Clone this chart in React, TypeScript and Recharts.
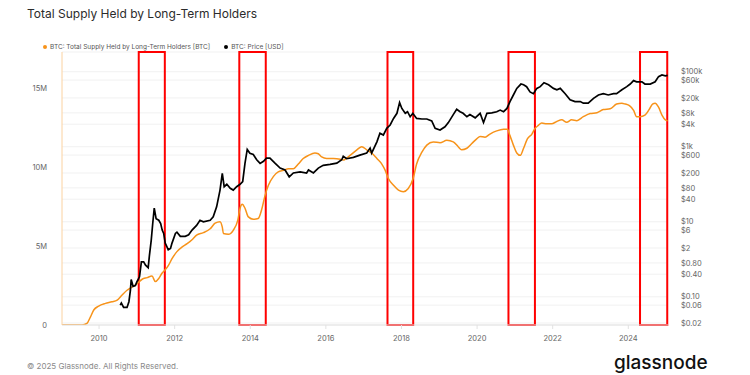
import { ComposedChart, Line, XAxis, YAxis, CartesianGrid, ReferenceArea } from 'recharts';

// Long-term holder supply, millions of BTC
const supplyYears = [
  2009.02, 2009.55, 2009.68, 2009.77, 2009.86, 2009.99, 2010.17, 2010.34, 2010.48, 2010.61,
  2010.74, 2010.87, 2011.0, 2011.14, 2011.27, 2011.4, 2011.49, 2011.58, 2011.67, 2011.75,
  2011.84, 2011.93, 2012.06, 2012.2, 2012.33, 2012.46, 2012.58, 2012.76, 2012.94, 2013.07,
  2013.2, 2013.26, 2013.29, 2013.42, 2013.55, 2013.67, 2013.73, 2013.79, 2013.86, 2013.95,
  2014.08, 2014.21, 2014.3, 2014.39, 2014.48, 2014.61, 2014.74, 2014.88, 2015.01, 2015.14,
  2015.27, 2015.4, 2015.54, 2015.71, 2015.8, 2015.89, 2016.02, 2016.2, 2016.38, 2016.46,
  2016.64, 2016.82, 2016.95, 2017.08, 2017.21, 2017.35, 2017.48, 2017.57, 2017.65, 2017.79,
  2017.92, 2018.05, 2018.18, 2018.31, 2018.4, 2018.54, 2018.67, 2018.84, 2019.02, 2019.2,
  2019.37, 2019.5, 2019.59, 2019.73, 2019.86, 2019.99, 2020.08, 2020.21, 2020.34, 2020.52,
  2020.7, 2020.8, 2020.87, 2020.96, 2021.05, 2021.14, 2021.23, 2021.33, 2021.45, 2021.53,
  2021.62, 2021.71, 2021.84, 2021.97, 2022.11, 2022.24, 2022.37, 2022.5, 2022.64, 2022.81,
  2022.99, 2023.17, 2023.34, 2023.52, 2023.69, 2023.83, 2023.92, 2024.03, 2024.14, 2024.22,
  2024.31, 2024.44, 2024.55, 2024.64, 2024.71, 2024.8, 2024.89, 2024.98, 2025.04,
];
const supplyValues = [
  0, 0, 0.1, 0.5, 0.95, 1.2, 1.37, 1.47, 1.58, 1.9,
  2.2, 2.4, 2.6, 2.9, 3.0, 3.1, 2.75, 2.95, 3.3, 3.5,
  3.8, 4.2, 4.65, 4.95, 5.15, 5.4, 5.7, 5.85, 6.1, 6.45,
  6.55, 6.2, 5.8, 5.75, 6.0, 6.65, 7.4, 7.65, 7.4, 6.85,
  6.7, 6.75, 7.3, 8.2, 8.85, 9.4, 9.7, 9.8, 9.9, 9.9,
  10.2, 10.55, 10.75, 10.9, 10.85, 10.65, 10.55, 10.55, 10.5, 10.45,
  10.75, 11.1, 11.3, 11.1, 10.9, 10.55, 10.2, 9.8, 9.3, 8.85,
  8.55, 8.45, 8.65, 9.3, 10.2, 10.95, 11.4, 11.6, 11.55, 11.7,
  11.6, 11.3, 11.1, 11.2, 11.5, 11.8, 11.95, 11.9, 12.1, 12.3,
  12.4, 12.4, 12.0, 11.4, 10.9, 10.75, 11.2, 11.8, 12.1, 12.45,
  12.65, 12.8, 12.75, 12.75, 12.9, 13.0, 12.85, 13.0, 12.95, 13.2,
  13.4, 13.45, 13.65, 13.7, 14.0, 14.05, 14.0, 13.9, 13.6, 13.2,
  13.2, 13.3, 13.65, 14.0, 14.05, 13.8, 13.3, 13.0, 12.95,
];

// BTC price, USD
const priceYears = [
  2010.56, 2010.59, 2010.65, 2010.74, 2010.79, 2010.83, 2010.85, 2010.9, 2010.96, 2011.0,
  2011.07, 2011.12, 2011.18, 2011.23, 2011.3, 2011.33, 2011.38, 2011.42, 2011.46, 2011.51,
  2011.58, 2011.63, 2011.67, 2011.71, 2011.75, 2011.83, 2011.89, 2011.93, 2012.02, 2012.06,
  2012.15, 2012.28, 2012.37, 2012.46, 2012.58, 2012.67, 2012.76, 2012.94, 2013.02, 2013.11,
  2013.2, 2013.26, 2013.31, 2013.38, 2013.47, 2013.55, 2013.64, 2013.73, 2013.8, 2013.86,
  2013.92, 2013.99, 2014.08, 2014.17, 2014.26, 2014.35, 2014.43, 2014.52, 2014.66, 2014.79,
  2014.92, 2015.03, 2015.14, 2015.32, 2015.49, 2015.54, 2015.67, 2015.8, 2015.93, 2016.11,
  2016.29, 2016.42, 2016.46, 2016.55, 2016.73, 2016.9, 2017.08, 2017.17, 2017.21, 2017.35,
  2017.43, 2017.52, 2017.61, 2017.7, 2017.79, 2017.88, 2017.95, 2018.01, 2018.1, 2018.16,
  2018.23, 2018.3, 2018.4, 2018.54, 2018.67, 2018.8, 2018.89, 2019.02, 2019.15, 2019.24,
  2019.37, 2019.46, 2019.55, 2019.63, 2019.73, 2019.81, 2019.95, 2020.08, 2020.17, 2020.26,
  2020.39, 2020.52, 2020.61, 2020.7, 2020.79, 2020.87, 2020.96, 2021.05, 2021.16, 2021.23,
  2021.31, 2021.4, 2021.49, 2021.58, 2021.67, 2021.77, 2021.89, 2022.02, 2022.11, 2022.2,
  2022.33, 2022.46, 2022.59, 2022.73, 2022.81, 2022.94, 2023.08, 2023.21, 2023.34, 2023.47,
  2023.61, 2023.69, 2023.83, 2023.96, 2024.05, 2024.14, 2024.22, 2024.36, 2024.44, 2024.58,
  2024.71, 2024.8, 2024.89, 2024.98, 2025.04,
];
const priceValues = [
  0.06, 0.068, 0.052, 0.052, 0.074, 0.15, 0.29, 0.19, 0.2, 0.25,
  0.34, 0.85, 0.85, 0.7, 0.6, 1.2, 3.2, 9, 23, 12,
  11, 9, 6, 4.9, 2.7, 1.8, 1.95, 2.7, 4.9, 5.3,
  4.1, 4.1, 4.5, 6, 8, 11, 10, 11, 13.5, 25,
  70, 196, 86, 100, 78, 70, 86, 100, 117, 360,
  850, 670, 620, 450, 360, 410, 500, 500, 360, 270,
  240, 158, 200, 215, 200, 240, 200, 270, 320, 340,
  365, 450, 560, 480, 520, 600, 680, 920, 680, 1350,
  2300, 2050, 3100, 3800, 5700, 7800, 15000, 10500, 7800, 8600,
  6300, 7800, 5700, 5500, 5500, 4900, 3100, 2800, 3400, 4400,
  7200, 10000, 8600, 7800, 6300, 7200, 5900, 7800, 4400, 7800,
  8000, 8600, 9500, 8600, 10500, 16000, 24000, 36000, 47000, 45000,
  40000, 29000, 26000, 36000, 40000, 51000, 45000, 36000, 33000, 36000,
  26000, 18000, 16000, 16000, 14500, 14500, 19500, 24000, 26000, 24000,
  26000, 26000, 33000, 40000, 47000, 58000, 54000, 54000, 47000, 47000,
  54000, 74000, 82000, 78000, 80000,
];

// highlighted periods (start, end year)
const boxStarts = [2011.05, 2013.71, 2017.63, 2020.83, 2024.31];
const boxEnds = [2011.74, 2014.41, 2018.31, 2021.53, 2025.03];

const yearTicks = [2010, 2012, 2014, 2016, 2018, 2020, 2022, 2024];
const supplyTicks = [0, 5, 10, 15];
const priceTicks = [0.02, 0.06, 0.1, 0.4, 0.8, 2, 6, 10, 40, 80, 200, 600, 1000, 4000, 8000, 20000, 60000, 100000];

const supplyData = supplyYears.map((y, i) => ({ year: y, supply: supplyValues[i] }));
const priceData = priceYears.map((y, i) => ({ year: y, price: priceValues[i] }));

function formatPrice(v: number) {
  if (v >= 1000) return '$' + v / 1000 + 'k';
  if (v < 1) return '$' + v.toFixed(2);
  return '$' + v;
}

const tickStyle = { fontSize: 7.5, fill: '#666', fontFamily: 'Inter' };

export default function App() {
  return (
    <div style={{ position: 'absolute', left: 0, top: 0, width: 750, height: 375, background: '#fff', fontFamily: 'Inter', overflow: 'hidden' }}>
      <div style={{ position: 'absolute', left: 27, top: 6, fontSize: 12, lineHeight: '15px', color: '#2b2b2b' }}>
        Total Supply Held by Long-Term Holders
      </div>

      <div style={{ position: 'absolute', left: 43, top: 43, fontSize: 6.5, color: '#555', display: 'flex', alignItems: 'center' }}>
        <span style={{ width: 4, height: 4, borderRadius: 2, background: '#f7931a', marginRight: 3 }} />
        <span style={{ marginRight: 14 }}>BTC: Total Supply Held by Long-Term Holders [BTC]</span>
        <span style={{ width: 4, height: 4, borderRadius: 2, background: '#000', marginRight: 3 }} />
        <span>BTC: Price [USD]</span>
      </div>

      <div style={{ position: 'absolute', left: 0, top: 0 }}>
        <ComposedChart width={750} height={375} margin={{ top: 52, right: 0, bottom: 20, left: 0 }}>
          <CartesianGrid vertical={false} yAxisId="right" stroke="#f1f1f1" />
          <XAxis
            dataKey="year"
            type="number"
            domain={[2009.02, 2025.05]}
            ticks={yearTicks}
            interval={0}
            allowDataOverflow
            height={30}
            tick={tickStyle}
            tickSize={4}
            tickMargin={7}
            stroke="#e2e2e2"
          />
          <YAxis
            yAxisId="left"
            orientation="left"
            width={62}
            domain={[0, 17.3]}
            ticks={supplyTicks}
            interval={0}
            allowDataOverflow
            tickFormatter={(v: number) => (v === 0 ? '0' : v + 'M')}
            tick={tickStyle}
            tickLine={false}
            tickMargin={9}
            stroke="#fbd2a0"
          />
          <YAxis
            yAxisId="right"
            orientation="right"
            width={82}
            scale="log"
            domain={[0.0177, 336000]}
            ticks={priceTicks}
            interval={0}
            allowDataOverflow
            tickFormatter={formatPrice}
            tick={{ ...tickStyle, textAnchor: 'start' }}
            tickLine={false}
            axisLine={false}
            tickMargin={7}
          />
          <Line
            yAxisId="left"
            data={supplyData}
            dataKey="supply"
            type="monotone"
            stroke="#f7931a"
            strokeWidth={1.5}
            dot={false}
            isAnimationActive={false}
          />
          <Line
            yAxisId="right"
            data={priceData}
            dataKey="price"
            type="linear"
            stroke="#000"
            strokeWidth={1.7}
            dot={false}
            isAnimationActive={false}
          />
          {boxStarts.map((s, i) => (
            <ReferenceArea
              key={i}
              yAxisId="left"
              x1={s}
              x2={boxEnds[i]}
              fill="none"
              stroke="#ff0000"
              strokeWidth={2}
              ifOverflow="visible"
            />
          ))}
        </ComposedChart>
      </div>

      <div style={{ position: 'absolute', left: 27, top: 361, fontSize: 8, lineHeight: '10px', color: '#8a8a8a' }}>
        © 2025 Glassnode. All Rights Reserved.
      </div>
      <div style={{ position: 'absolute', left: 614, top: 353, fontSize: 19, lineHeight: '19px', color: '#111', fontWeight: 500 }}>
        glassnode
      </div>
    </div>
  );
}
